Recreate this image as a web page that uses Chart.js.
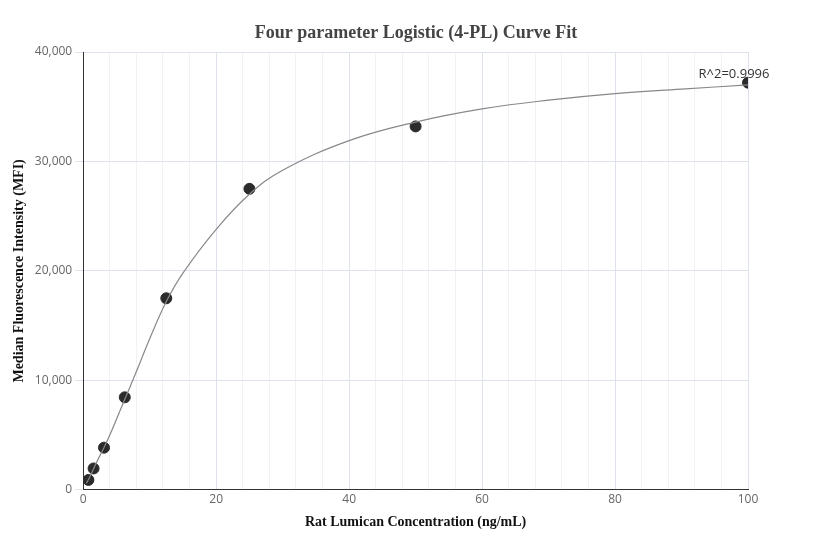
<!DOCTYPE html><html><head><script src="https://cdn.jsdelivr.net/npm/chart.js@4"></script>
<style>body{margin:0;background:#fff}#w{width:832px;height:560px}</style></head><body><div id="w"><canvas id="c"></canvas></div>
<script>
const pointX=[0.78,1.56,3.125,6.25,12.5,25,50,100];
const pointY=[900,1950,3850,8450,17500,27500,33200,37200];
const curveX=[0.5,1,2,3,4,6,8,10,12.5,15,20,25,30,40,50,60,70,80,90,100];
const curveY=[600,1200,2500,3700,5000,7900,10800,13800,17200,19800,23800,27000,29200,31900,33600,34800,35600,36200,36600,37000];
const r2Label='R^2=0.9996';
const titleText='Four parameter Logistic (4-PL) Curve Fit';
const lbl={id:'lbl',afterDatasetsDraw(ch){const {ctx,scales:{x,y}}=ch;ctx.save();ctx.font='13px "Open Sans", sans-serif';ctx.fillStyle='#333';ctx.textAlign='center';ctx.fillText(r2Label,x.getPixelForValue(100)-14,y.getPixelForValue(37200)-5);
ctx.font='bold 18px "Liberation Serif", serif';ctx.fillStyle='#444';ctx.textBaseline='middle';ctx.fillText(titleText,ch.width/2,33);ctx.restore();}};
new Chart(document.getElementById('c'),{type:'scatter',plugins:[lbl],data:{datasets:[
{type:'line',data:curveX.map((v,i)=>({x:v,y:curveY[i]})),borderColor:'#888',borderWidth:1.2,pointRadius:0,tension:0.4,fill:false},
{data:pointX.map((v,i)=>({x:v,y:pointY[i]})),backgroundColor:'#2b2b2b',borderColor:'#2b2b2b',pointRadius:5.5}]},
options:{responsive:true,maintainAspectRatio:false,animation:false,
layout:{padding:{left:7,right:84,top:52,bottom:25}},
plugins:{legend:{display:false},tooltip:{enabled:false},title:{display:false}},
scales:{x:{type:'linear',min:0,max:100,ticks:{stepSize:4,autoSkip:false,maxRotation:0,color:'#666',font:{family:'"Open Sans", sans-serif',size:12},callback:v=>v%20===0?v:''},
grid:{color:c=>c.tick&&c.tick.value%20===0?'#dde2ec':'#f0f2f7',drawTicks:false},border:{color:'#333'},
title:{display:true,text:'Rat Lumican Concentration (ng/mL)',color:'#111',font:{family:'"Liberation Serif", serif',size:14,weight:'bold'}}},
y:{min:0,max:40000,ticks:{stepSize:10000,color:'#666',font:{family:'"Open Sans", sans-serif',size:12},callback:v=>v.toLocaleString('en-US')},
grid:{color:'#dde2ec'},border:{color:'#333'},
title:{display:true,text:'Median Fluorescence Intensity (MFI)',color:'#111',font:{family:'"Liberation Serif", serif',size:14,weight:'bold'}}}}}});
</script></body></html>
